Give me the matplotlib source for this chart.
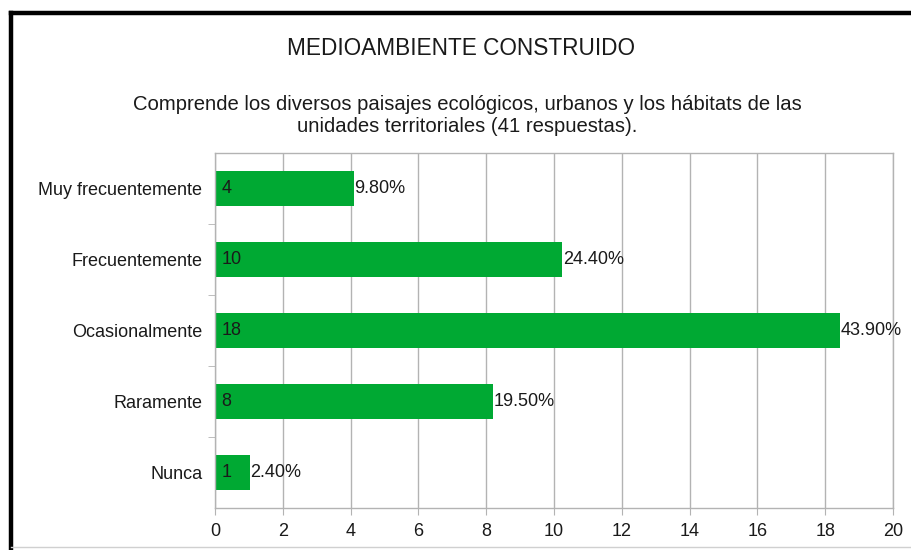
import matplotlib.pyplot as plt
from matplotlib.lines import Line2D

plt.rcParams['font.family'] = ['Liberation Sans', 'DejaVu Sans']

categories = ['Muy frecuentemente', 'Frecuentemente', 'Ocasionalmente', 'Raramente', 'Nunca']
counts = [4, 10, 18, 8, 1]
percents = [9.80, 24.40, 43.90, 19.50, 2.40]

green = '#00a933'
grid_col = '#b3b3b3'
txt = '#1a1a1a'

fig = plt.figure(figsize=(9.12, 5.5), dpi=100)
ax = fig.add_axes([0.2357, 0.0764, 0.7434, 0.6454])

ypos = list(range(len(categories)))[::-1]
# count and share stacked in the same colour, as the spreadsheet does
ax.barh(ypos, counts, height=0.48, color=green, zorder=2)
shares = [p / 100 for p in percents]
ax.barh(ypos, shares, left=counts, height=0.48, color=green, zorder=2)

for y, c, p, s in zip(ypos, counts, percents, shares):
    ax.text(0.2, y, str(c), va='center', ha='left', fontsize=13, color=txt, zorder=3)
    ax.text(c + s + 0.02, y, f'{p:.2f}%', va='center', ha='left', fontsize=13,
            color=txt, zorder=3)

ax.set_xlim(0, 20)
ax.set_ylim(-0.5, len(categories) - 0.5)
ax.set_xticks(range(0, 21, 2))
ax.set_yticks(ypos)
ax.set_yticklabels(categories)
ax.set_yticks([i + 0.5 for i in range(len(categories) - 1)], minor=True)

ax.grid(axis='x', color=grid_col, linewidth=1, zorder=0)
for sp in ax.spines.values():
    sp.set_color(grid_col)
    sp.set_linewidth(1)

ax.tick_params(axis='x', which='major', length=5, color=grid_col, labelsize=13,
               labelcolor=txt, pad=6)
ax.tick_params(axis='y', which='major', length=0, labelsize=13, labelcolor=txt, pad=9)
ax.tick_params(axis='y', which='minor', length=5, color=grid_col)

fig.text(0.505, 0.912, 'MEDIOAMBIENTE CONSTRUIDO', ha='center', va='center',
         fontsize=16.3, color=txt)
fig.text(0.512, 0.790,
         'Comprende los diversos paisajes ecológicos, urbanos y los hábitats de las\n'
         'unidades territoriales (41 respuestas).',
         ha='center', va='center', fontsize=14.6, color=txt, linespacing=1.2)

# screenshot frame: black on top and left, faint grey at the bottom
fig.add_artist(Line2D([0.0121, 1.0], [0.9755, 0.9755], color='black', linewidth=3.2))
fig.add_artist(Line2D([0.0121, 0.0121], [0.0, 0.9755], color='black', linewidth=3.2))
fig.add_artist(Line2D([0.0121, 1.0], [0.005, 0.005], color='#d0d0d0', linewidth=1))

fig.savefig('out.png', dpi=100)
